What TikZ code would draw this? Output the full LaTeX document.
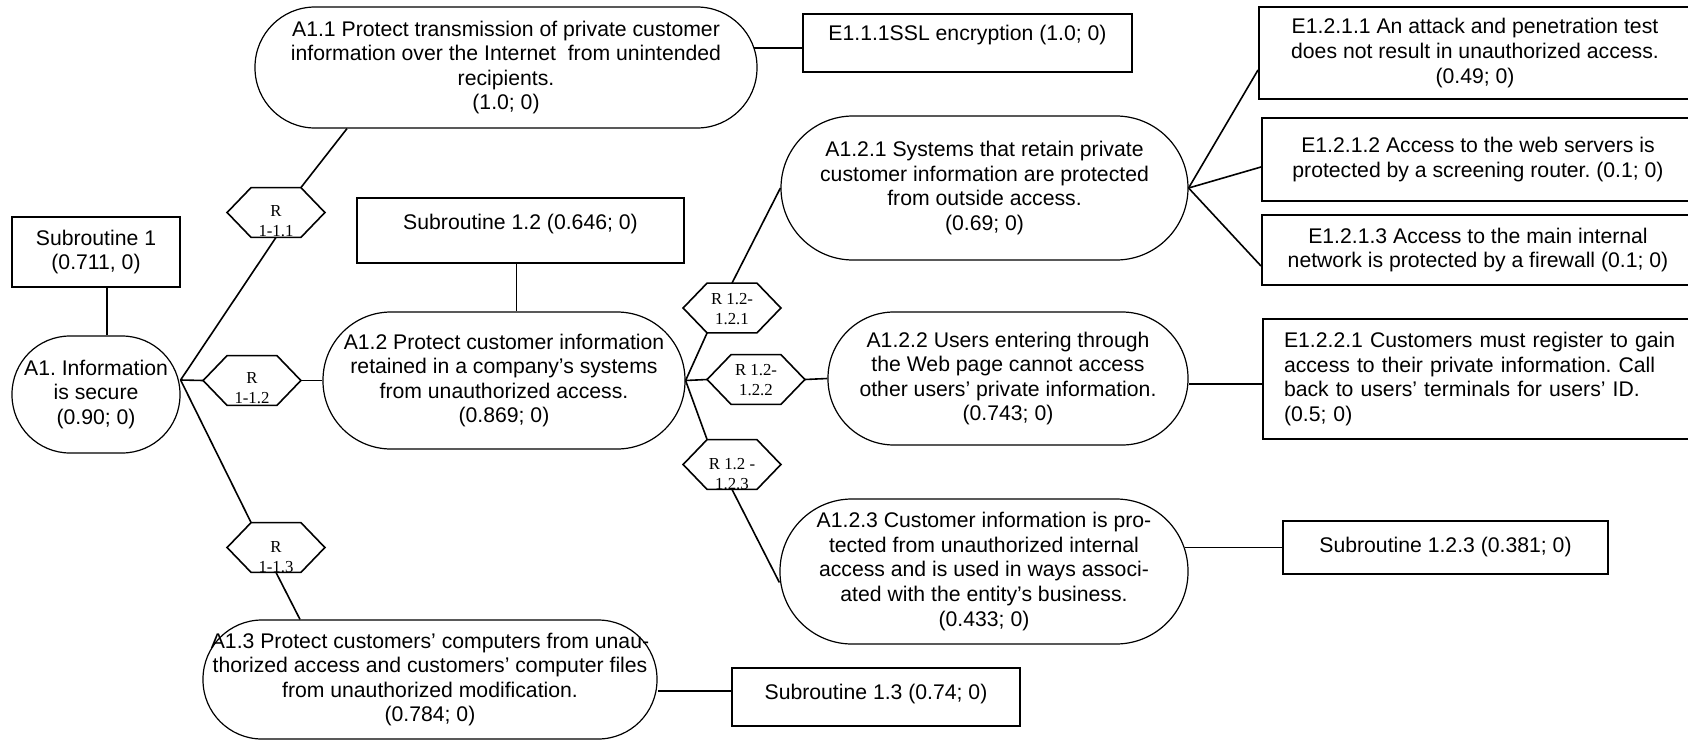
\documentclass[tikz,border=0pt]{standalone}
\usepackage{fontspec}
\setmainfont{Liberation Sans}
\newfontfamily\hexfont{Liberation Serif}
\frenchspacing
\tikzset{
  conn/.style={line width=0.8pt},
  box/.style={draw, line width=1pt, rectangle, inner sep=2pt, align=center, font=\fontsize{10.6}{12.3}\selectfont},
  pill/.style={draw, line width=0.6pt, rectangle, rounded corners=#1, inner xsep=0pt, inner ysep=1pt, align=center, font=\fontsize{10.6}{12.3}\selectfont},
  hexcore/.style={rectangle, draw=none, minimum width=24.5pt, minimum height=24.5pt, inner sep=0pt},
  hexline/.style={line width=0.8pt, line join=miter},
  hextext/.style={inner sep=0pt, align=center, font=\hexfont\fontsize{8.4}{10}\selectfont},
  textup/.style={text height=8pt, text depth=#1},
}
\newcommand\hexbox[4]{%
  \node[hexcore] (#1) at (#2) {};
  \draw[hexline] (#1.north west) -- (#1.north east) -- ([xshift=12pt]#1.east) -- (#1.south east) -- (#1.south west) -- ([xshift=-12pt]#1.west) -- cycle;
  \begin{scope}
    \clip ([xshift=-12pt]#1.north west) rectangle ([xshift=12pt]#1.south east);
    \node[hextext] (#1t) at ([yshift=#4]#1.center) {#3};
  \end{scope}
}
\begin{document}
\begin{tikzpicture}[x=0.5pt,y=-0.5pt]
\useasboundingbox (0,0) rectangle (1688,740);
\clip (0,0) rectangle (1688,740);

% main nodes
\node[box, minimum width=84pt, minimum height=35pt] (sub1) at (96,252) {Subroutine 1\\(0.711, 0)};
\node[pill=29pt, minimum width=84pt, minimum height=58.5pt] (a1) at (96,394.5) {A1. Information\\is secure\\(0.90; 0)};
\node[pill=30pt, minimum width=251pt, minimum height=60.5pt] (a11) at (506,67.5) {A1.1 Protect transmission of private customer\\information over the Internet\ \ from unintended\\recipients.\\(1.0; 0)};
\node[box, textup=10.4pt, minimum width=164.5pt, minimum height=29pt] (e111) at (967.5,43) {E1.1.1SSL encryption (1.0; 0)};
\node[box, textup=9.4pt, minimum width=163.5pt, minimum height=32.5pt] (sub12) at (520.5,230.5) {Subroutine 1.2 (0.646; 0)};
\node[pill=34pt, minimum width=181pt, minimum height=68.5pt] (a12) at (504,380.5) {A1.2 Protect customer information\\retained in a company’s systems\\from unauthorized access.\\(0.869; 0)};
\node[pill=29.5pt, minimum width=227pt, minimum height=59.5pt] (a13) at (430,679.5) {A1.3 Protect customers’ computers from unau-\\thorized access and customers’ computer files\\from unauthorized modification.\\(0.784; 0)};
\node[box, textup=5.4pt, minimum width=144pt, minimum height=29pt] (sub13) at (876,697) {Subroutine 1.3 (0.74; 0)};
\node[pill=36pt, minimum width=203.5pt, minimum height=72pt] (a121) at (984.5,188) {A1.2.1 Systems that retain private\\customer information are protected\\from outside access.\\(0.69; 0)};
\node[pill=33pt, minimum width=180pt, minimum height=66.5pt] (a122) at (1008,378.5) {A1.2.2 Users entering through\\the Web page cannot access\\other users’ private information.\\(0.743; 0)};
\node[pill=36pt, minimum width=204pt, minimum height=72.5pt] (a123) at (984,571.5) {A1.2.3 Customer information is pro-\\tected from unauthorized internal\\access and is used in ways associ-\\ated with the entity’s business.\\(0.433; 0)};
\node[box, minimum width=162.5pt, minimum height=26.5pt] (sub123) at (1445.5,547.5) {Subroutine 1.2.3 (0.381; 0)};
\node[box, anchor=west, minimum width=216pt, minimum height=46pt] (e1211) at (1258,53) {E1.2.1.1 An attack and penetration test\\does not result in unauthorized access.\\(0.49; 0)};
\node[box, anchor=west, minimum width=216pt, minimum height=41.5pt] (e1212) at (1261,159.5) {E1.2.1.2 Access to the web servers is\\protected by a screening router. (0.1; 0)};
\node[box, anchor=west, minimum width=216pt, minimum height=35pt] (e1213) at (1261,250) {E1.2.1.3 Access to the main internal\\network is protected by a firewall (0.1; 0)};
\node[box, anchor=west, align=left, text width=200pt, inner xsep=10.5pt, minimum height=60pt] (e1221) at (1262,379) {E1.2.2.1 Customers must register to gain\\access to their private information. Call\\back to users’ terminals for users’ ID.\\(0.5; 0)};

% hexagon relation nodes
\hexbox{r11}{276,212.5}{R\\1-1.1}{-4.5pt}
\hexbox{r12}{252,380.5}{R\\1-1.2}{-4pt}
\hexbox{r13}{276,547.5}{R\\1-1.3}{-5pt}
\hexbox{r121}{732,308}{R 1.2-\\1.2.1}{-0.5pt}
\hexbox{r122}{756,379.5}{R 1.2-\\1.2.2}{-0.5pt}
\hexbox{r123}{732,464.5}{R 1.2 -\\1.2.3}{-5pt}

% connectors
\coordinate (a1p) at ([yshift=7.25pt]a1.east);
\draw[conn] ([xshift=5.5pt]sub1.south) -- ([xshift=5.5pt]a1.north);
\draw[conn] (a1p) -- (r11.south);
\draw[conn] (r11.north east) -- ([xshift=-79.5pt]a11.south);
\draw[conn] (a1p) -- ([xshift=-12pt]r12.west);
\draw[conn] ([xshift=12pt]r12.east) -- (a12.west);
\draw[conn] (a1p) -- (r13.north west);
\draw[conn] (r13.south) -- ([xshift=-65pt]a13.north);
\draw[conn] ([yshift=-2.5pt]e111.west) -- ([yshift=-2.5pt,xshift=-1.6pt]e111.west -| a11.east);
\draw[conn] ([xshift=-2pt]sub12.south) -- ([xshift=-2pt]sub12.south |- a12.north);
\draw[conn] (a12.east) -- (r121.south west);
\draw[conn] (r121.north) -- (a121.west);
\draw[conn] (a12.east) -- ([xshift=-12pt]r122.west);
\draw[conn] ([xshift=12pt]r122.east) -- (a122.west);
\draw[conn] (a12.east) -- (r123.north west);
\draw[conn] (r123.south) -- ([yshift=-5.5pt]a123.west);
\draw[conn] (a121.east) -- ([yshift=-8.5pt]e1211.west);
\draw[conn] (a121.east) -- ([yshift=-3.75pt]e1212.west);
\draw[conn] (a121.east) -- ([yshift=-8pt]e1213.west);
\draw[conn] ([yshift=-2.75pt]a122.east) -- ([yshift=-2.75pt]a122.east -| e1221.west);
\draw[conn] (sub123.west) -- ([xshift=-2pt]sub123.west -| a123.east);
\draw[conn] ([yshift=3pt]sub13.west) -- ([yshift=3pt]sub13.west -| a13.east);
\end{tikzpicture}
\end{document}
